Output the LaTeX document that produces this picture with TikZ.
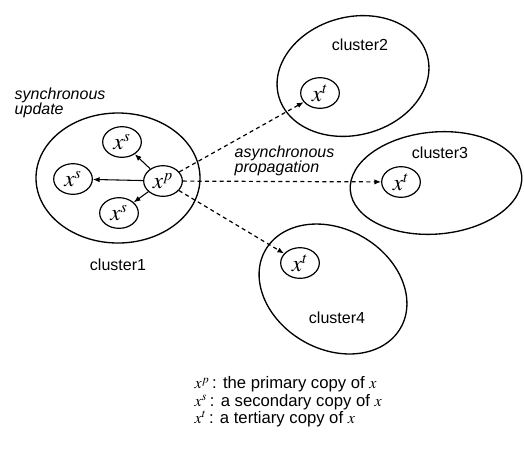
\documentclass[tikz,border=0pt]{standalone}
\usepackage{mathptmx}
\usepackage{fontspec}
\setmainfont{Liberation Sans}
\usetikzlibrary{shapes.geometric,arrows.meta}
\begin{document}
\begin{tikzpicture}[x=0.75pt,y=-0.75pt,
  cluster/.style={draw,ellipse,line width=1pt},
  copy/.style={draw,ellipse,line width=0.9pt,minimum width=29pt,minimum height=23pt,inner sep=0pt,font=\LARGE},
  sync/.style={-{Latex[length=5pt,width=4pt]},line width=0.8pt},
  async/.style={-{Latex[length=5pt,width=4pt]},dash pattern=on 3pt off 2.5pt,line width=0.9pt},
  lbl/.style={font=\fontsize{12}{11.5}\selectfont}]
\useasboundingbox (0,0) rectangle (524,451);
\node[cluster,minimum width=123pt,minimum height=97.5pt] (c1) at (118,178) {};
\node[cluster,minimum width=115.5pt,minimum height=88.5pt,rotate=15] (c2) at (353,76) {};
\node[cluster,minimum width=129pt,minimum height=76.5pt,rotate=5] (c3) at (436,183) {};
\node[cluster,minimum width=117pt,minimum height=90pt,rotate=-30] (c4) at (333,289) {};

\node[copy] (xp) at (163,181) {$x^p$};
\node[copy] (xs1) at (122,142) {$x^s$};
\node[copy] (xs2) at (73,179) {$x^s$};
\node[copy] (xs3) at (119,213) {$x^s$};
\node[copy] (xt2) at (320,93) {$x^t$};
\node[copy] (xt3) at (401,182) {$x^t$};
\node[copy] (xt4) at (300,263) {$x^t$};

\draw[sync] (xp) -- (xs1);
\draw[sync] (xp) -- (xs2);
\draw[sync] (xp) -- (xs3);
\draw[async] (xp) -- (xt2);
\draw[async] (xp) -- (xt3);
\draw[async] (xp) -- (xt4);

\node[lbl] (l1) at (118,265) {cluster1};
\node[lbl] (l2) at (360,45) {cluster2};
\node[lbl] (l3) at (440,153) {cluster3};
\node[lbl] (l4) at (337,318) {cluster4};
\node[lbl,font=\fontsize{12}{11.5}\selectfont\itshape,align=left,anchor=west] (syn) at (10,103) {synchronous\\update};
\node[lbl,font=\fontsize{12}{11.5}\selectfont\itshape,align=left,anchor=west] (asyn) at (230,161) {asynchronous\\propagation};
\node[lbl,font=\fontsize{12.5}{13}\selectfont,align=left,anchor=west] (key) at (190,402) {{\large$x^p$}\,: the primary copy of {\large$x$}\\{\large$x^s$}\,: a secondary copy of {\large$x$}\\{\large$x^t$}\,: a tertiary copy of {\large$x$}};
\end{tikzpicture}
\end{document}
